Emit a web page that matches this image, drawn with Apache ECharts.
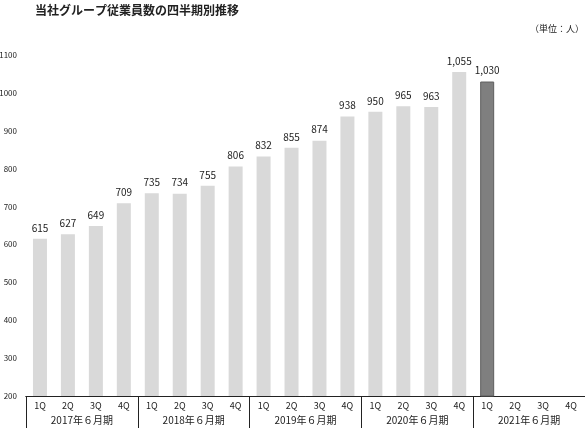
<!DOCTYPE html>
<html><head><meta charset="utf-8">
<script src="https://cdn.jsdelivr.net/npm/echarts@6/dist/echarts.min.js"></script>
<style>html,body{margin:0;padding:0;background:#fff}#c{width:585px;height:428px}</style>
</head><body><div id="c"></div>
<script>
const quarters = ['1Q','2Q','3Q','4Q','1Q','2Q','3Q','4Q','1Q','2Q','3Q','4Q','1Q','2Q','3Q','4Q','1Q','2Q','3Q','4Q'];
const years = ['2017年６月期','2018年６月期','2019年６月期','2020年６月期','2021年６月期'];
const employees = [615,627,649,709,735,734,755,806,832,855,874,938,950,965,963,1055,1030,null,null,null];
const highlightIndex = 16;
const yTicks = {min:200, max:1100, interval:100};

const font = '"Noto Sans CJK JP", sans-serif';
const data = employees.map((v,i)=>({
  value: v,
  itemStyle: i===highlightIndex ? {color:'#7f7f7f', borderColor:'#5f5f5f', borderWidth:1} : {color:'#d9d9d9'}
}));
const chart = echarts.init(document.getElementById('c'));
chart.setOption({
  animation:false,
  textStyle:{fontFamily:font},
  graphic:[
    {type:'text', left:35, top:4, style:{text:'当社グループ従業員数の四半期別推移', font:'bold 12px '+font, fill:'#222'}},
    {type:'text', right:1, top:24, style:{text:'（単位：人）', font:'9px '+font, fill:'#222'}}
  ],
  grid:{left:26, right:0, top:55, bottom:32, containLabel:false, outerBoundsMode:'none'},
  xAxis:[
    {type:'category', data:quarters, position:'bottom',
     axisLine:{show:true, lineStyle:{color:'#222', width:1}},
     axisTick:{show:false},
     axisLabel:{fontSize:9, color:'#222', margin:5, fontFamily:font}},
    {type:'category', data:years, position:'bottom',
     axisLine:{show:true, lineStyle:{color:'#222', width:1}},
     axisTick:{show:true, length:32, lineStyle:{color:'#222', width:1}},
     axisLabel:{fontSize:10, color:'#222', margin:19, fontFamily:font}}
  ],
  yAxis:{type:'value', min:yTicks.min, max:yTicks.max, interval:yTicks.interval,
    axisLine:{show:false}, axisTick:{show:false}, splitLine:{show:false},
    axisLabel:{fontSize:8, color:'#222', margin:9, fontFamily:font,
      formatter:v=>String(v)}},
  series:[{type:'bar', data:data, barWidth:14, xAxisIndex:0,
    label:{show:true, position:'top', distance:6, fontSize:10, color:'#222', fontFamily:font,
      formatter:p=>p.value==null?'':p.value.toLocaleString('en-US')}}]
});
</script></body></html>
